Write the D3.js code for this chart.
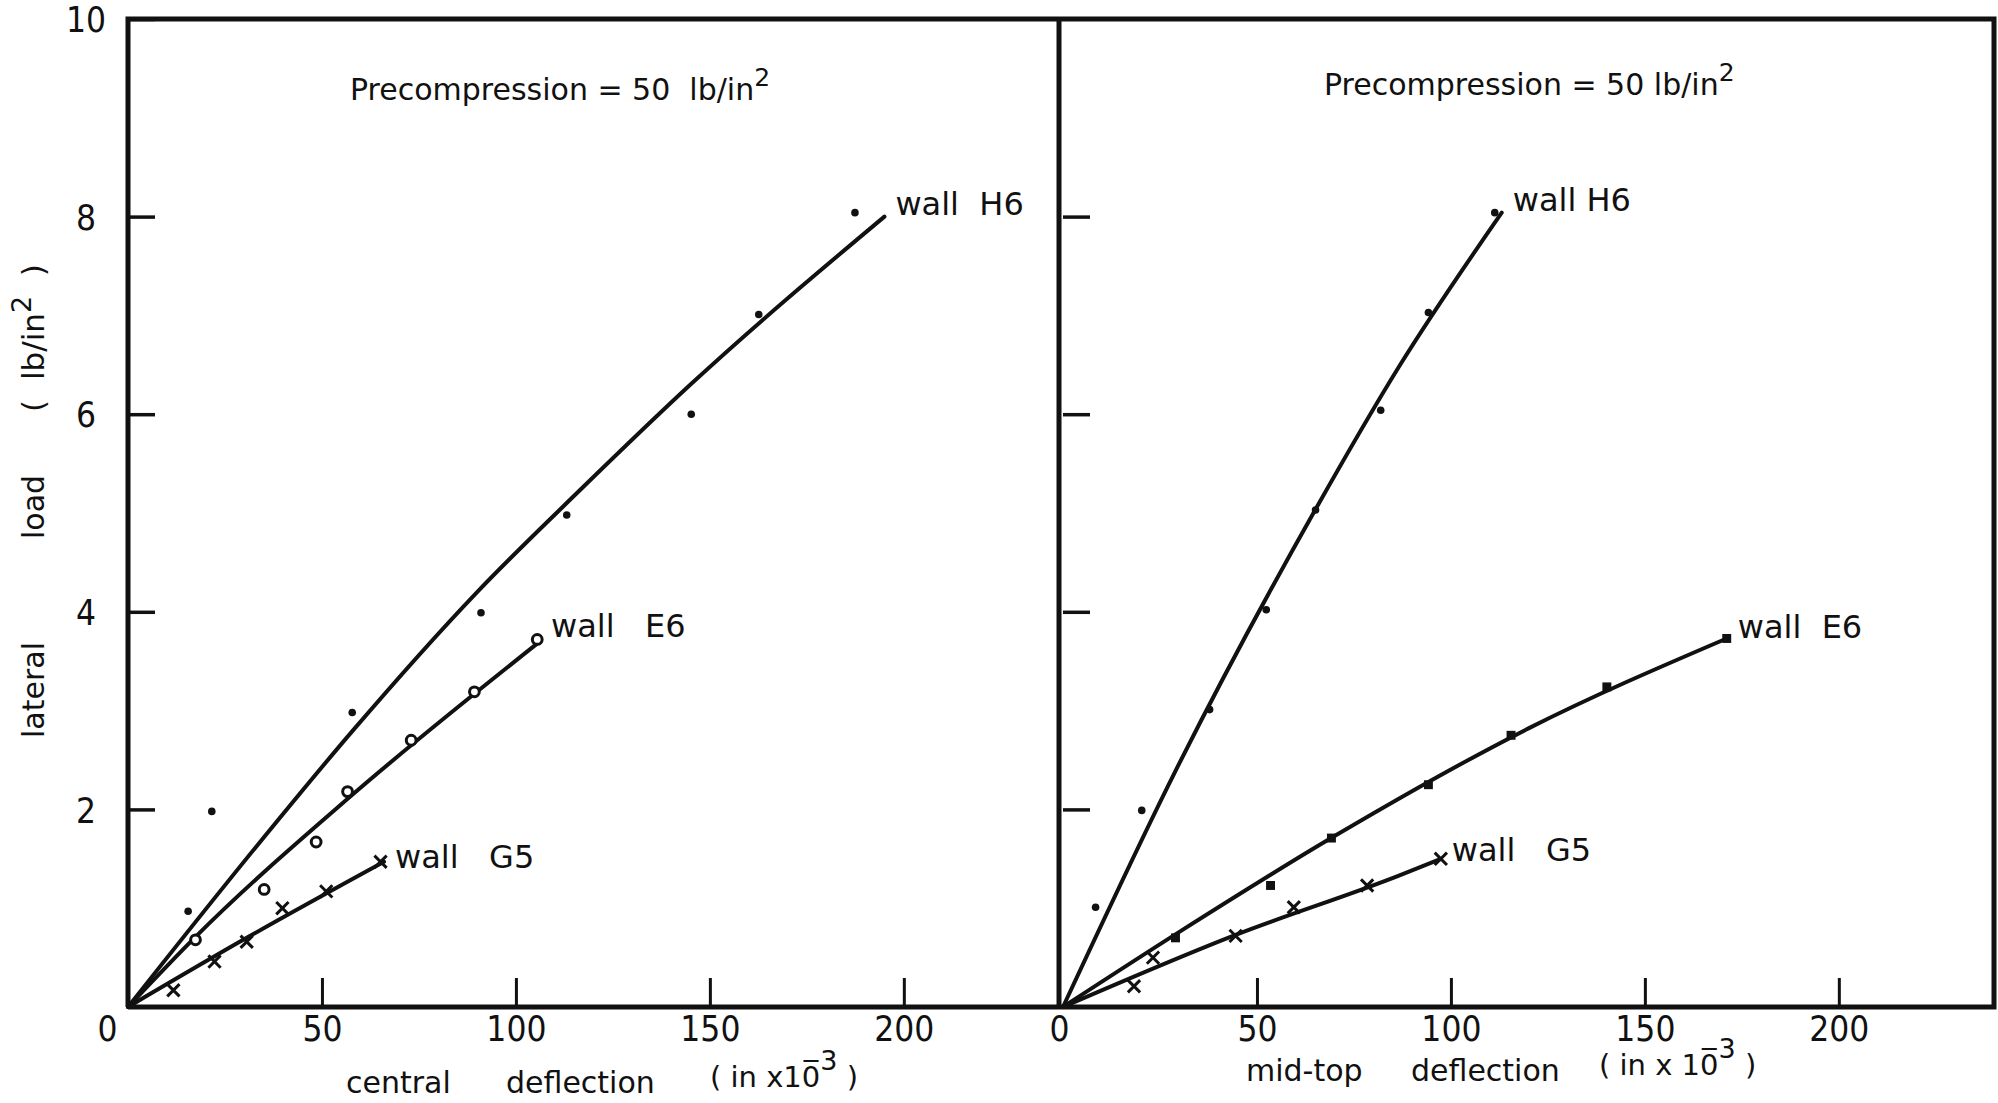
<!DOCTYPE html>
<html>
<head>
<meta charset="utf-8">
<script src="https://cdn.jsdelivr.net/npm/d3@7"></script>
<style>
  body { margin: 0; background: #fff; }
  text { font-family: "DejaVu Sans", sans-serif; fill: #111; white-space: pre; }
  .tick text { font-family: "DejaVu Sans Condensed", "DejaVu Sans", sans-serif; font-stretch: condensed; }
  .frame, .tick line { stroke: #111; }
</style>
</head>
<body>
<svg width="1998" height="1103"></svg>
<script>
// lateral load (lb/in2) against deflection (in x 10^-3)
var loadTicks = [2, 4, 6, 8, 10],
    deflTicks = [50, 100, 150, 200];

// central deflection, left panel
var centralH6Defl = [15.5, 21.6, 57.8, 91.0, 113.1, 145.2, 162.6, 187.4],
    centralH6Load = [0.97, 1.98, 2.98, 3.99, 4.98, 6.0, 7.01, 8.04],
    centralE6Defl = [17.4, 35.1, 48.5, 56.6, 73.0, 89.3, 105.5],
    centralE6Load = [0.68, 1.19, 1.67, 2.18, 2.70, 3.19, 3.72],
    centralG5Defl = [11.7, 22.3, 30.6, 39.8, 51.1, 65.1],
    centralG5Load = [0.17, 0.46, 0.66, 1.0, 1.17, 1.47];

// fitted curves, left panel
var centralH6FitDefl = [0, 33, 58, 90, 117, 145, 195],
    centralH6FitLoad = [0, 1.62, 2.80, 4.20, 5.25, 6.30, 8.0],
    centralE6FitDefl = [0, 17.4, 57, 106.2],
    centralE6FitLoad = [0, 0.71, 2.12, 3.70],
    centralG5FitDefl = [0, 30.6, 66],
    centralG5FitLoad = [0, 0.70, 1.47];

// mid-top deflection, right panel
var midH6Defl = [8.4, 20.3, 37.8, 52.4, 65.1, 81.9, 94.2, 111.3],
    midH6Load = [1.01, 1.99, 3.01, 4.02, 5.03, 6.04, 7.03, 8.04],
    midE6Defl = [29.0, 53.5, 69.2, 94.2, 115.5, 140.2, 171.1],
    midE6Load = [0.70, 1.23, 1.71, 2.25, 2.75, 3.24, 3.73],
    midG5Defl = [18.3, 23.2, 44.5, 59.5, 78.4, 97.4],
    midG5Load = [0.21, 0.50, 0.72, 1.01, 1.23, 1.50];

// fitted curves, right panel
var midH6FitDefl = [0, 28.5, 65, 86.6, 113.1],
    midH6FitLoad = [0, 2.35, 5.03, 6.48, 8.04],
    midE6FitDefl = [0, 30, 70, 120, 171.1],
    midE6FitLoad = [0, 0.76, 1.73, 2.82, 3.73],
    midG5FitDefl = [0, 44.5, 86.6, 97.4],
    midG5FitLoad = [0, 0.73, 1.33, 1.50];

var svg = d3.select("svg"),
    width = +svg.attr("width"),
    height = +svg.attr("height");

var y = d3.scaleLinear().domain([0, 10]).range([1007, 19]);
var xCentral = d3.scaleLinear().domain([0, 240]).range([128, 1059]);
var xMid = d3.scaleLinear().domain([0, 240]).range([1063, 1994]);

var symTimes = d3.symbolTimes || d3.symbolX || d3.symbolCross;

var panels = [
  {
    x: xCentral, yLabels: true, titleX: 350, titleY: 100, titleText: "Precompression = 50  lb/in",
    walls: [
      {name: "wall  H6", pts: d3.zip(centralH6Defl, centralH6Load), fit: d3.zip(centralH6FitDefl, centralH6FitLoad), mark: "dot", ly: -2},
      {name: "wall   E6", pts: d3.zip(centralE6Defl, centralE6Load), fit: d3.zip(centralE6FitDefl, centralE6FitLoad), mark: "open", ly: -4},
      {name: "wall   G5", pts: d3.zip(centralG5Defl, centralG5Load), fit: d3.zip(centralG5FitDefl, centralG5FitLoad), mark: "times", ly: 6}
    ],
    xlab: [[346, "central"], [506, "deflection"]], parenX: 710, xlabY: 1093, paren: "( in x1", zeroDx: -21
  },
  {
    x: xMid, yLabels: false, titleX: 1324, titleY: 95, titleText: "Precompression = 50 lb/in",
    walls: [
      {name: "wall H6", pts: d3.zip(midH6Defl, midH6Load), fit: d3.zip(midH6FitDefl, midH6FitLoad), mark: "dot", ly: -2},
      {name: "wall  E6", pts: d3.zip(midE6Defl, midE6Load), fit: d3.zip(midE6FitDefl, midE6FitLoad), mark: "square", ly: 0},
      {name: "wall   G5", pts: d3.zip(midG5Defl, midG5Load), fit: d3.zip(midG5FitDefl, midG5FitLoad), mark: "times", ly: 2}
    ],
    xlab: [[1246, "mid-top"], [1411, "deflection"]], parenX: 1599, xlabY: 1081, paren: "( in x 1", zeroDx: -4
  }
];

panels.forEach(function (p) {
  var g = svg.append("g");
  var x = p.x;

  // y ticks, pointing inward
  var yAxis = g.append("g")
    .attr("transform", "translate(" + x(0) + ",0)")
    .call(d3.axisLeft(y).tickValues(p.yLabels ? loadTicks : loadTicks.slice(0, 4))
      .tickSize(-27).tickPadding(0).tickFormat(p.yLabels ? d3.format("d") : ""));
  yAxis.select(".domain").remove();
  yAxis.selectAll(".tick line").attr("stroke-width", 3.5);
  yAxis.selectAll(".tick text")
    .attr("x", -42).attr("dy", "0.36em")
    .style("text-anchor", "middle")
    .style("font-size", "35px");

  // x ticks, pointing up
  var xAxis = g.append("g")
    .attr("transform", "translate(0," + y(0) + ")")
    .call(d3.axisBottom(x).tickValues([0].concat(deflTicks))
      .tickSize(-29).tickPadding(9).tickFormat(d3.format("d")));
  xAxis.select(".domain").remove();
  xAxis.selectAll(".tick line")
    .attr("stroke-width", 3)
    .attr("opacity", function (d) { return d === 0 ? 0 : 1; });
  xAxis.selectAll(".tick text")
    .attr("x", function (d) { return d === 0 ? p.zeroDx : 0; })
    .style("font-size", "35px");

  // title
  var t = g.append("text")
    .attr("x", p.titleX).attr("y", p.titleY)
    .style("font-size", "30px")
    .text(p.titleText);
  t.append("tspan").attr("dy", -14).style("font-size", "25px").text("2");

  // x label
  p.xlab.forEach(function (d) {
    g.append("text").attr("x", d[0]).attr("y", p.xlabY).style("font-size", "30px").text(d[1]);
  });
  var pt = g.append("text").attr("x", p.parenX).attr("y", p.xlabY - 6).style("font-size", "29px");
  pt.append("tspan").text(p.paren + "0\u0305");
  pt.append("tspan").attr("dy", -17).style("font-size", "27px").text("3");
  pt.append("tspan").attr("dy", 17).text(" )");

  var line = d3.line()
    .x(function (d) { return x(d[0]); })
    .y(function (d) { return y(d[1]); })
    .curve(d3.curveMonotoneX);

  p.walls.forEach(function (w) {
    g.append("path")
      .datum(w.fit)
      .attr("d", line)
      .attr("fill", "none")
      .attr("stroke", "#111")
      .attr("stroke-width", 4)
      .attr("stroke-linecap", "round");

    var sym = d3.symbol()
      .type(w.mark === "square" ? d3.symbolSquare : w.mark === "times" ? symTimes : d3.symbolCircle)
      .size(w.mark === "dot" ? 45 : w.mark === "open" ? 75 : w.mark === "square" ? 80 : 100);

    g.selectAll(null)
      .data(w.pts)
      .enter().append("path")
      .attr("transform", function (d) { return "translate(" + x(d[0]) + "," + y(d[1]) + ")"; })
      .attr("d", sym)
      .attr("fill", w.mark === "open" ? "#fff" : w.mark === "times" ? "none" : "#111")
      .attr("stroke", w.mark === "dot" || w.mark === "square" ? "none" : "#111")
      .attr("stroke-width", 3);

    var end = w.fit[w.fit.length - 1];
    g.append("text")
      .attr("x", x(end[0]) + 11)
      .attr("y", y(end[1]) + w.ly)
      .style("font-size", "32px")
      .text(w.name);
  });
});

// frame: top, left axis, divider, right border, bottom axis
var frame = svg.append("g").attr("class", "frame")
  .attr("fill", "none").attr("stroke-width", 5);
frame.append("path")
  .attr("d", "M" + xCentral(0) + "," + y(0) + "V" + y(10) + "H" + xMid(240) + "V" + y(0) + "H" + xCentral(0));
frame.append("line")
  .attr("x1", xCentral(240)).attr("x2", xCentral(240))
  .attr("y1", y(10)).attr("y2", y(0));

// y axis title
var yt = svg.append("g").attr("transform", "translate(44,0)");
[["lateral", 690], ["load", 507]].forEach(function (d) {
  yt.append("text")
    .attr("transform", "translate(0," + d[1] + ")rotate(-90)")
    .style("text-anchor", "middle")
    .style("font-size", "30px")
    .text(d[0]);
});
var yu = yt.append("text")
  .attr("transform", "translate(0,338)rotate(-90)")
  .style("text-anchor", "middle")
  .style("font-size", "31px");
yu.append("tspan").text("(  lb/in");
yu.append("tspan").attr("dy", -13).style("font-size", "27px").text("2");
yu.append("tspan").attr("dy", 13).text("  )");
</script>
</body>
</html>
